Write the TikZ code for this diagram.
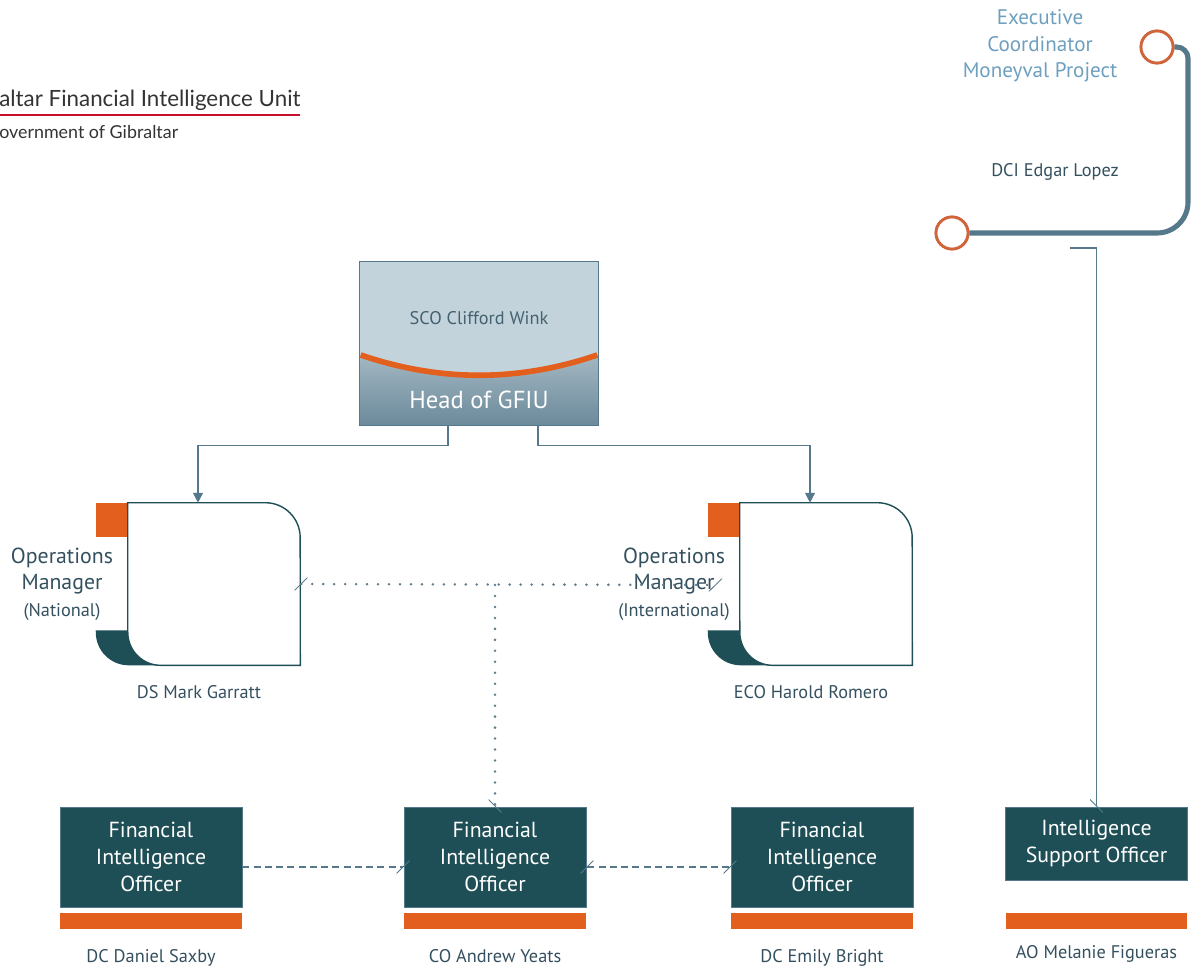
\documentclass[tikz,border=0pt]{standalone}
\usepackage{fontspec}
\setmainfont{PT Sans}
\newfontfamily\logofont{Lato}
\usetikzlibrary{arrows.meta,positioning,calc}

\definecolor{gfiuTeal}{HTML}{1F4F56}
\definecolor{gfiuOrange}{HTML}{E35F1E}
\definecolor{gfiuSlate}{HTML}{55798B}
\definecolor{gfiuDots}{HTML}{5F7D8D}
\definecolor{gfiuText}{HTML}{34505F}
\definecolor{gfiuLight}{HTML}{6E9FBE}
\definecolor{gfiuRing}{HTML}{D0643A}
\definecolor{gfiuRed}{HTML}{C8102E}
\definecolor{headTop}{HTML}{C2D3DC}
\definecolor{headMid}{HTML}{A3B7C2}
\definecolor{headLow}{HTML}{6B8A9B}

\tikzset{slash/.tip={Bar[width=9pt,slant=1,line width=0.9pt]}}

% manager card: orange flag, teal foot, white card with two round corners
\newcommand{\mgrcard}[1]{%
  \fill[gfiuOrange] ($(#1.north west)+(-32,0)$) rectangle ($(#1.north west)+(0,34)$);
  \fill[gfiuTeal] ($(#1.south west)+(-32,-35)$) -- ++(64,0) -- ++(0,35) -- ++(-31,0)
    arc[start angle=270,end angle=180,radius=23.4pt] -- cycle;
  \draw[draw=gfiuTeal,line width=1pt,fill=white] (#1.north west) -- ($(#1.north east)+(-35,0)$)
    arc[start angle=90,end angle=0,radius=24.8pt] -- (#1.south east) -- ($(#1.south west)+(33,0)$)
    arc[start angle=270,end angle=180,radius=23.4pt] -- cycle;
}

\begin{document}
\begin{tikzpicture}[x=0.025cm,y=-0.025cm,
    link/.style={draw=gfiuSlate,line width=0.9pt},
    dots/.style={draw=gfiuDots,line width=2pt,line cap=round,dash pattern=on 0pt off 7.8pt},
    dashes/.style={draw=gfiuSlate,line width=0.9pt,dash pattern=on 5pt off 3pt},
    officer/.style={fill=gfiuTeal,draw=gfiuSlate,line width=0.4pt,text=white,align=center,
      minimum width=4.55cm,minimum height=2.5cm,inner sep=0pt,font=\fontsize{15.5}{19}\selectfont},
    bar/.style={fill=gfiuOrange,minimum width=4.55cm,minimum height=0.4cm,inner sep=0pt},
    person/.style={text=gfiuText,font=\fontsize{13}{15}\selectfont,inner sep=0pt},
    role/.style={text=gfiuText,align=center,font=\fontsize{15.5}{19}\selectfont,inner sep=0pt},
    card/.style={minimum width=4.3cm,minimum height=4.05cm,inner sep=0pt},
    ring/.style={circle,draw=gfiuRing,line width=2pt,fill=white,minimum size=0.8cm,inner sep=0pt}]

  \useasboundingbox (0,0) rectangle (1200,967);

  % logo
  \node[anchor=base west,inner sep=0pt,text=black!80,font=\logofont\fontsize{15.9}{18}\selectfont] (logoA) at (-1,106) {altar Financial Intelligence Unit};
  \node[anchor=base west,inner sep=0pt,text=black!80,font=\logofont\fontsize{12.7}{14}\selectfont] (logoB) at (-1,138) {overnment of Gibraltar};
  \draw[gfiuRed,line width=1.3pt] (0,115) -- (300,115);

  % moneyval project
  \node[text=gfiuLight,align=center,inner sep=0pt,font=\fontsize{15}{19}\selectfont] (exec) at (1040,46) {Executive\\Coordinator\\Moneyval Project};
  \node[person] (lopez) at (1055,172) {DCI Edgar Lopez};
  \node[ring] (ringTop) at (1157,47) {};
  \node[ring] (ringLow) at (952,233) {};
  \draw[draw=gfiuSlate,line width=3.6pt] (ringTop.east) [rounded corners=8pt] -- (1188,47) [rounded corners=22pt] -- (1188,233) -- (ringLow.east);
  \node[ring] at (ringTop) {};
  \node[ring] at (ringLow) {};

  % head of unit
  \node[fill=headTop,minimum width=5.95cm,minimum height=4.075cm,inner sep=0pt] (head) at (479,343.5) {};
  \shade[top color=headMid,bottom color=headLow] ($(head.west)+(0,11.5)$) .. controls ($(head.center)+(-39,38.5)$) and ($(head.center)+(39,38.5)$) .. ($(head.east)+(0,11.5)$) -- (head.south east) -- (head.south west) -- cycle;
  \draw[gfiuOrange,line width=4pt] ($(head.west)+(1,11.5)$) .. controls ($(head.center)+(-39,38.5)$) and ($(head.center)+(39,38.5)$) .. ($(head.east)+(-1,11.5)$);
  \draw[gfiuSlate,line width=0.8pt] (head.north west) rectangle (head.south east);
  \node[text=gfiuSlate!80!black,font=\fontsize{13}{15}\selectfont] (headName) at ($(head.center)+(0,-25.5)$) {SCO Clifford Wink};
  \node[text=white,font=\fontsize{17.5}{20}\selectfont] (headRole) at ($(head.center)+(0,56.5)$) {Head of GFIU};

  % operations managers
  \node[card] (mgrL) at (214,584) {};
  \node[card] (mgrR) at (826,584) {};
  \mgrcard{mgrL}
  \mgrcard{mgrR}
  \node[role] (opsL) at (62,584) {Operations\\Manager\\{\fontsize{13}{15}\selectfont(National)}};
  \node[role] (opsR) at (674,584) {Operations\\Manager\\{\fontsize{13}{15}\selectfont(International)}};
  \node[person] (garratt) at (199,692) {DS Mark Garratt};
  \node[person] (romero) at (811,692) {ECO Harold Romero};

  \draw[link,-{Triangle[length=7pt,width=7pt]}] ($(head.south)+(-31,0)$) -- ++(0,20) -| ($(mgrL.north)+(-16,0)$);
  \draw[link,-{Triangle[length=7pt,width=7pt]}] ($(head.south)+(59,0)$) -- ++(0,20) -| ($(mgrR.north)+(-16,0)$);

  % officers
  \node[officer] (fio1) at (151,857) {Financial\\Intelligence\\Officer};
  \node[officer] (fio2) at (495,857) {Financial\\Intelligence\\Officer};
  \node[officer] (fio3) at (822,857) {Financial\\Intelligence\\Officer};
  \node[officer,minimum height=1.825cm] (iso) at (1096.5,843.5) {Intelligence\\Support Officer};
  \node[bar,below=0.125cm of fio1] (bar1) {};
  \node[bar,below=0.125cm of fio2] (bar2) {};
  \node[bar,below=0.125cm of fio3] (bar3) {};
  \node[bar,below=0.8cm of iso,minimum width=4.525cm] (bar4) {};
  \node[person,below=0.5cm of bar1] (saxby) {DC Daniel Saxby};
  \node[person,below=0.5cm of bar2] (yeats) {CO Andrew Yeats};
  \node[person,below=0.5cm of bar3] (bright) {DC Emily Bright};
  \node[person,below=0.4cm of bar4] (figueras) {AO Melanie Figueras};

  % reporting lines
  \coordinate (dotEnd) at (716,585);
  \coordinate (dotJoin) at (fio2.north |- dotEnd);
  \coordinate (lopezStub) at (1070,248);
  \draw[dots,slash-slash] (mgrL.east) -- (dotEnd);
  \draw[dots,-slash] (dotJoin) -- (fio2.north);
  \draw[dashes,-slash] ($(fio1.east)+(0,10)$) -- ($(fio2.west)+(0,10)$);
  \draw[dashes,slash-slash] ($(fio2.east)+(0,10)$) -- ($(fio3.west)+(0,10)$);
  \draw[link,-slash] (lopezStub) -| (iso.north);
\end{tikzpicture}
\end{document}
